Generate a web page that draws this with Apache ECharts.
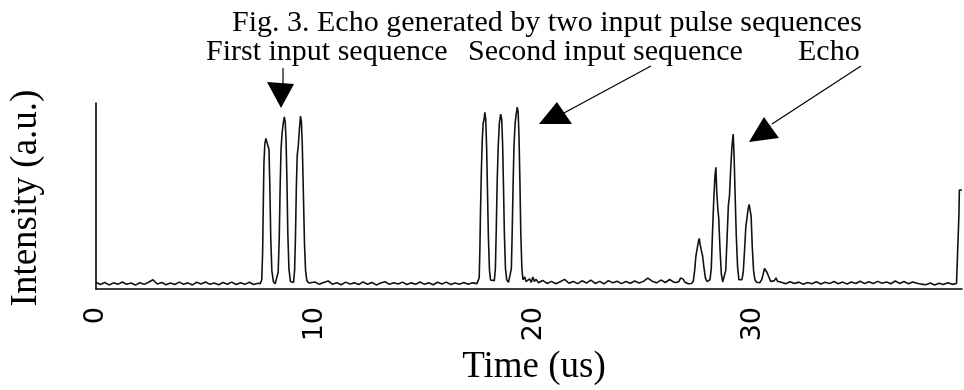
<!DOCTYPE html>
<html>
<head>
<meta charset="utf-8">
<script src="https://cdn.jsdelivr.net/npm/echarts@6/dist/echarts.min.js"></script>
<style>
  html, body { margin: 0; padding: 0; background: #fff; }
  #chart { width: 964px; height: 390px; }
</style>
</head>
<body>
<div id="chart"></div>
<script>
// Oscilloscope trace, [time (us), intensity (a.u.)] pairs, split by region.
const baseA = [
  [0.0,3.6],[0.2,2.4],[0.4,3.5],[0.6,2.2],[0.8,3.3],[1.0,2.5],[1.2,3.8],[1.4,2.6],[1.6,3.2],[1.8,2.1],
  [2.0,3.4],[2.2,2.5],[2.4,3.6],[2.6,5.0],[2.8,2.7],[3.0,3.5],[3.2,2.3],[3.4,3.2],[3.6,2.4],[3.8,3.7],
  [4.0,2.6],[4.2,3.3],[4.4,2.2],[4.6,3.6],[4.8,2.7],[5.0,3.8],[5.2,2.5],[5.4,3.2],[5.6,2.3],[5.8,3.5],
  [6.0,2.6],[6.2,3.7],[6.4,2.4],[6.6,3.3],[6.8,2.5],[7.0,3.6],[7.2,2.4],[7.4,3.1]
];
const pulsesFirst = [
  [7.50,2.9],[7.57,5],[7.61,20],[7.64,45],[7.67,68],[7.71,78],[7.76,81],[7.80,82],[7.85,80],[7.90,75],
  [7.94,55],[7.98,28],[8.03,10],[8.10,4],[8.18,2.8],
  [8.25,3.2],[8.32,9],[8.37,28],[8.41,55],[8.45,75],[8.50,84],[8.55,89],[8.60,92.5],[8.64,90],[8.68,80],
  [8.72,58],[8.76,30],[8.81,11],[8.88,4],[8.95,3.0],
  [9.02,3.5],[9.07,10],[9.11,28],[9.15,55],[9.19,72],[9.24,77],[9.29,86],[9.34,93],[9.38,90],[9.42,78],
  [9.47,52],[9.52,25],[9.57,10],[9.63,4.5],[9.72,3.2]
];
const baseB = [
  [9.8,3.2],[10.0,3.8],[10.2,2.5],[10.4,3.5],[10.6,4.3],[10.8,2.6],[11.0,3.4],[11.2,2.3],[11.4,3.7],[11.6,2.7],
  [11.8,3.3],[12.0,2.4],[12.2,3.8],[12.4,2.6],[12.6,3.5],[12.8,2.2],[13.0,3.2],[13.2,3.9],[13.4,2.5],[13.6,3.4],
  [13.8,2.7],[14.0,3.7],[14.2,2.4],[14.4,3.3],[14.6,2.6],[14.8,3.8],[15.0,2.5],[15.2,3.4],[15.4,2.3],[15.6,3.6],
  [15.8,2.7],[16.0,3.7],[16.2,2.4],[16.4,3.2],[16.6,2.6],[16.8,3.5],[17.0,2.5],[17.2,3.3],[17.4,2.9]
];
const pulsesSecond = [
  [17.46,3.0],[17.50,6],[17.53,20],[17.56,42],[17.60,64],[17.64,80],[17.68,89],[17.72,91],[17.76,95],[17.80,91],
  [17.84,76],[17.88,52],[17.92,28],[17.97,10],[18.02,4.8],[18.10,3.8],
  [18.19,4.5],[18.24,11],[18.28,32],[18.32,57],[18.37,77],[18.42,89],[18.48,94],[18.53,91],[18.57,78],[18.61,55],
  [18.65,30],[18.70,11],[18.76,4.8],[18.84,3.6],
  [18.92,4.2],[18.97,11],[19.01,32],[19.05,57],[19.09,77],[19.14,89],[19.19,94],[19.24,97.8],[19.28,95],[19.32,81],
  [19.36,58],[19.40,30],[19.45,11],[19.50,5],[19.58,6.5],[19.64,4]
];
const baseC = [
  [19.72,4.6],[19.80,5.4],[19.88,3.6],[19.95,6.5],[20.02,4.0],[20.10,5.2],[20.2,3.4],[20.4,4.6],[20.6,3.0],[20.8,4.1],
  [21.0,2.8],[21.2,3.9],[21.4,5.2],[21.6,3.1],[21.8,4.0],[22.0,2.9],[22.2,4.4],[22.4,3.2],[22.6,4.8],[22.8,3.0],
  [23.0,4.1],[23.2,2.8],[23.4,4.5],[23.6,3.3],[23.8,4.2],[24.0,2.9],[24.2,4.0],[24.4,3.1],[24.6,4.3],[24.8,3.2],
  [25.0,4.1],[25.2,5.8],[25.4,4.2],[25.6,3.3],[25.8,4.8],[26.0,3.5],[26.2,5.1],[26.4,3.6]
];
const echoPulses = [
  [26.50,3.5],[26.62,4],[26.70,6],[26.76,6.6],[26.82,5.2],[26.90,3.6],[26.98,3.2],[27.05,2.8],[27.12,3.5],[27.20,3.0],
  [27.28,4.2],[27.34,10],[27.40,18],[27.46,22],[27.52,26],[27.55,27.2],[27.59,24],[27.64,21],[27.70,18],[27.76,12],
  [27.83,6],[27.90,4],[27.97,3.6],
  [28.04,5],[28.10,11],[28.16,32],[28.22,50],[28.27,61],[28.31,65.4],[28.35,52],[28.40,43],[28.44,38],[28.50,21],
  [28.56,8],[28.62,3.8],
  [28.70,4.5],[28.76,10],[28.82,27],[28.88,45],[28.93,50],[28.98,63],[29.04,76],[29.10,83.3],[29.14,72],[29.19,50],
  [29.24,29],[29.30,12],[29.36,5],[29.43,4],
  [29.50,5],[29.56,9],[29.62,21],[29.68,34],[29.72,37],[29.78,43],[29.83,45.5],[29.88,45.5],[29.92,39],[29.97,23],
  [30.03,10],[30.09,5],[30.17,3.6],[30.25,4.0],[30.32,3.4],
  [30.40,5],[30.47,8],[30.53,11],[30.59,12],[30.64,9],[30.70,8],[30.76,5.5],[30.82,4],[30.90,3.8],[30.98,4.5],
  [31.06,6],[31.12,4.2],[31.20,3.5]
];
const baseD = [
  [31.3,3.6],[31.5,2.8],[31.7,3.9],[31.9,2.9],[32.1,3.7],[32.3,2.6],[32.5,3.5],[32.7,2.8],[32.9,3.9],[33.1,2.7],
  [33.3,3.6],[33.5,2.9],[33.7,4.0],[33.9,2.8],[34.1,3.7],[34.3,2.7],[34.5,3.8],[34.7,3.0],[34.9,4.2],[35.1,2.9],
  [35.3,3.9],[35.5,3.0],[35.7,4.1],[35.9,3.1],[36.1,3.8],[36.3,2.8],[36.5,4.3],[36.7,3.0],[36.9,4.0],[37.1,2.8],
  [37.3,3.8],[37.5,3.1],[37.7,2.6],[37.9,2.3],[38.1,3.2],[38.3,2.2],[38.5,3.1],[38.7,2.4],[38.9,3.3],[39.1,2.5],
  [39.3,3.0]
];
const tailEdge = [[39.38,3.0],[39.41,40],[39.43,53.2],[39.55,53.2]];

const timeTicks = [0, 10, 20, 30];
const titleText = 'Fig. 3. Echo generated by two input pulse sequences';
const markerLabels = ['First input sequence', 'Second input sequence', 'Echo'];
const xName = 'Time (us)';
const yName = 'Intensity (a.u.)';

// Arrow tips in data space: [time, intensity]
const arrowTips = [[8.45, 97.3], [20.23, 88.7], [29.82, 79.0]];

const trace = [].concat(baseA, pulsesFirst, baseB, pulsesSecond, baseC, echoPulses, baseD, tailEdge);

const serif = '"Liberation Serif", "Times New Roman", serif';
const chart = echarts.init(document.getElementById('chart'), null, { renderer: 'canvas' });

chart.setOption({
  animation: false,
  backgroundColor: '#fff',
  grid: { left: 96, right: 2, top: 103, bottom: 101, containLabel: false },
  xAxis: {
    type: 'value',
    min: timeTicks[0],
    max: 39.55,
    interval: timeTicks[1] - timeTicks[0],
    axisLine: { show: true, onZero: false, lineStyle: { color: '#000', width: 1.6 } },
    axisTick: { show: false },
    splitLine: { show: false },
    axisLabel: {
      rotate: 90,
      margin: 18,
      color: '#000',
      fontFamily: '"DejaVu Sans", sans-serif',
      fontSize: 27,
      showMaxLabel: false,
      formatter: v => (timeTicks.indexOf(v) >= 0 ? String(v) : '')
    }
  },
  yAxis: {
    type: 'value',
    min: 0,
    max: 100,
    axisLine: { show: true, lineStyle: { color: '#000', width: 1.6 } },
    axisTick: { show: false },
    axisLabel: { show: false },
    splitLine: { show: false }
  },
  series: [{
    type: 'line',
    data: trace,
    showSymbol: false,
    smooth: false,
    lineStyle: { color: '#111', width: 1.6 },
    silent: true
  }]
});

// Annotation arrows: triangle head at the tip and a thin leader line up to the caption.
const heads = [
  [[0, 0], [-14, -26], [13, -24]],
  [[0, 0], [18, -22], [33, 0]],
  [[0, 0], [15, -25], [30, -4]]
];
const leaders = [
  [[2, -24], [2, -40]],
  [[25, -11], [112, -58]],
  [[23, -18], [112, -76]]
];

const graphics = [];
arrowTips.forEach((tip, i) => {
  const p = chart.convertToPixel({ gridIndex: 0 }, tip);
  graphics.push({
    type: 'polygon',
    shape: { points: heads[i].map(o => [p[0] + o[0], p[1] + o[1]]) },
    style: { fill: '#000' }
  });
  graphics.push({
    type: 'line',
    shape: {
      x1: p[0] + leaders[i][0][0], y1: p[1] + leaders[i][0][1],
      x2: p[0] + leaders[i][1][0], y2: p[1] + leaders[i][1][1]
    },
    style: { stroke: '#000', lineWidth: 1.2 }
  });
});

graphics.push({
  type: 'text', left: 232, top: 8,
  style: { text: titleText, font: '30px ' + serif, fill: '#000' }
});
const captionLeft = [206, 468, 798];
markerLabels.forEach((t, i) => {
  graphics.push({
    type: 'text', left: captionLeft[i], top: 37,
    style: { text: t, font: '30px ' + serif, fill: '#000' }
  });
});
graphics.push({
  type: 'text', x: 534, y: 367,
  style: { text: xName, font: '37px ' + serif, fill: '#000', textAlign: 'center', textVerticalAlign: 'middle' }
});
graphics.push({
  type: 'text', x: 26, y: 198, rotation: Math.PI / 2,
  style: { text: yName, font: '37px ' + serif, fill: '#000', textAlign: 'center', textVerticalAlign: 'middle' }
});

chart.setOption({ graphic: graphics });
</script>
</body>
</html>
